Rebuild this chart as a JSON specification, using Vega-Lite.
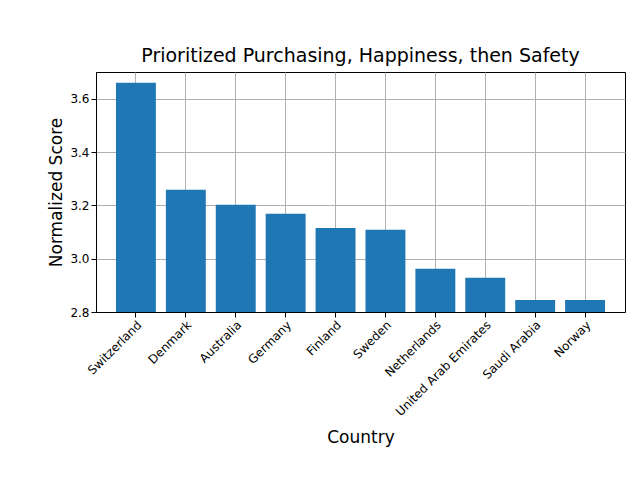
{
  "$schema": "https://vega.github.io/schema/vega-lite/v6.json",
  "width": 529,
  "height": 240,
  "autosize": "none",
  "padding": {"left": 96, "top": 72, "right": 15, "bottom": 168},
  "background": "white",
  "title": {"text": "Prioritized Purchasing, Happiness, then Safety", "fontSize": 19, "font": "DejaVu Sans", "fontWeight": "normal", "offset": 6},
  "data": {
    "values": [
      {"Country": "Switzerland", "score": 3.66},
      {"Country": "Denmark", "score": 3.258},
      {"Country": "Australia", "score": 3.202},
      {"Country": "Germany", "score": 3.168},
      {"Country": "Finland", "score": 3.115},
      {"Country": "Sweden", "score": 3.108},
      {"Country": "Netherlands", "score": 2.962},
      {"Country": "United Arab Emirates", "score": 2.928},
      {"Country": "Saudi Arabia", "score": 2.845},
      {"Country": "Norway", "score": 2.845}
    ]
  },
  "mark": {"type": "bar", "color": "#1f77b4", "clip": true},
  "encoding": {
    "x": {
      "field": "Country", "type": "nominal", "sort": null,
      "scale": {"paddingInner": 0.2, "paddingOuter": 0.4},
      "axis": {"labelAngle": -45, "labelAlign": "right", "labelBaseline": "top", "labelFontSize": 12, "titleFontSize": 17, "titleFontWeight": "normal", "grid": true, "bandPosition": 0.5, "titlePadding": 12}
    },
    "y": {
      "field": "score", "type": "quantitative", "title": "Normalized Score",
      "scale": {"domain": [2.8, 3.7], "zero": false, "nice": false},
      "axis": {"values": [2.8, 3.0, 3.2, 3.4, 3.6], "format": ".1f", "labelFontSize": 12, "titleFontSize": 17, "titleFontWeight": "normal", "grid": true}
    }
  },
  "config": {
    "font": "DejaVu Sans",
    "axis": {"labelColor": "black", "titleColor": "black", "domainColor": "black", "tickColor": "black", "gridColor": "#b0b0b0", "labelFont": "DejaVu Sans", "titleFont": "DejaVu Sans"},
    "view": {"stroke": "black"}
  }
}
